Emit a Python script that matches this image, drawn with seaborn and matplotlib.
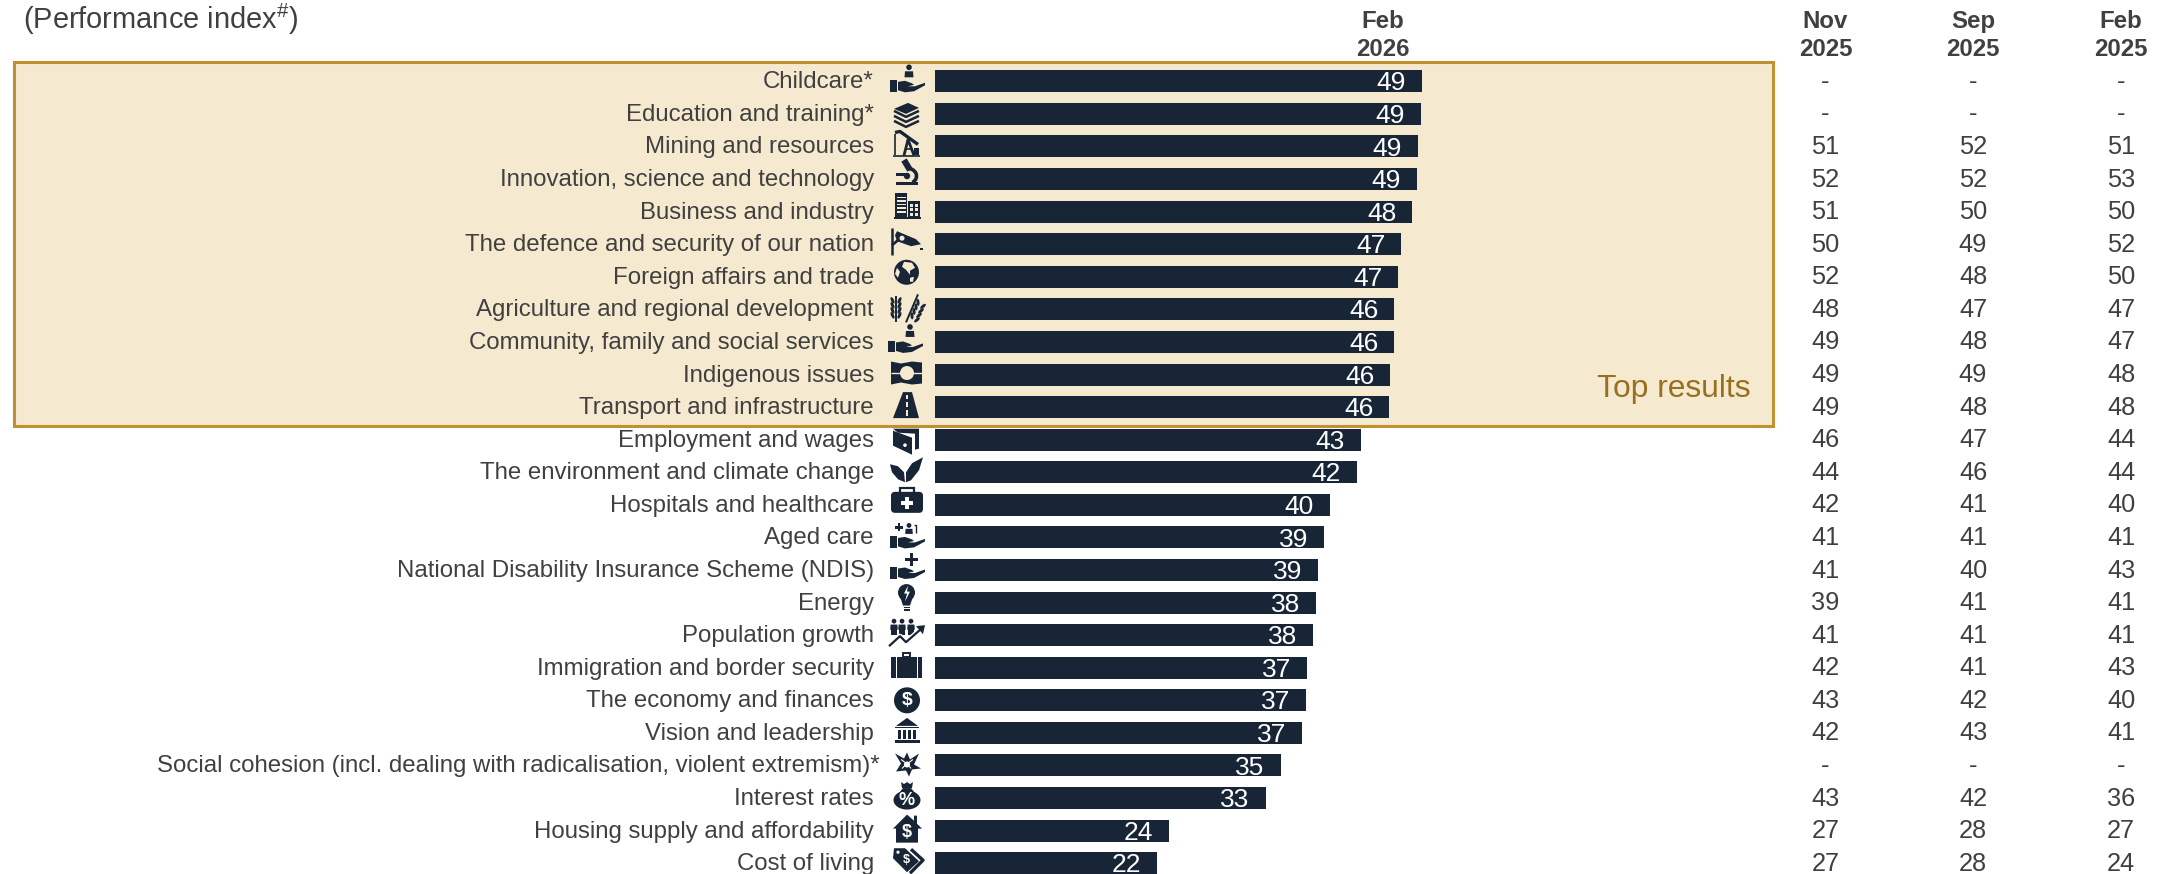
import matplotlib
matplotlib.use("Agg")
import matplotlib.pyplot as plt
import pandas as pd
import seaborn as sns
from matplotlib.patches import Arc, Circle, Ellipse, FancyBboxPatch, Polygon, Rectangle

categories = [
    "Childcare*", "Education and training*", "Mining and resources",
    "Innovation, science and technology", "Business and industry",
    "The defence and security of our nation", "Foreign affairs and trade",
    "Agriculture and regional development", "Community, family and social services",
    "Indigenous issues", "Transport and infrastructure", "Employment and wages",
    "The environment and climate change", "Hospitals and healthcare", "Aged care",
    "National Disability Insurance Scheme (NDIS)", "Energy", "Population growth",
    "Immigration and border security", "The economy and finances", "Vision and leadership",
    "Social cohesion (incl. dealing with radicalisation, violent extremism)*",
    "Interest rates", "Housing supply and affordability", "Cost of living",
]
# bar lengths, printed labels are the rounded ones
feb26 = [49.2, 49.1, 48.8, 48.7, 48.2, 47.1, 46.8, 46.4, 46.4, 46.0, 45.9, 43.0, 42.6,
         39.9, 39.3, 38.7, 38.5, 38.2, 37.6, 37.5, 37.1, 34.9, 33.4, 23.6, 22.4]
feb26_labels = [49, 49, 49, 49, 48, 47, 47, 46, 46, 46, 46, 43, 42,
                40, 39, 39, 38, 38, 37, 37, 37, 35, 33, 24, 22]
nov25 = ["-", "-", 51, 52, 51, 50, 52, 48, 49, 49, 49, 46, 44, 42, 41, 41, 39, 41, 42, 43, 42, "-", 43, 27, 27]
sep25 = ["-", "-", 52, 52, 50, 49, 48, 47, 48, 49, 48, 47, 46, 41, 41, 40, 41, 41, 41, 42, 43, "-", 42, 28, 28]
feb25 = ["-", "-", 51, 53, 50, 52, 50, 47, 47, 48, 48, 44, 44, 40, 41, 43, 41, 41, 43, 40, 41, "-", 36, 27, 24]

W, H = 2164, 874
NAVY = "#182536"
GREY = "#404040"
CREAM = "#f5e9cf"
GOLD = "#bf9130"
ROW0, STEP = 81.3, 32.58
BAR_X0, PX_PER_UNIT = 935, 9.9
ICON_X = 907

plt.rcParams["font.family"] = ["Liberation Sans", "DejaVu Sans"]
plt.rcParams["mathtext.fontset"] = "custom"
plt.rcParams["mathtext.rm"] = "Liberation Sans"
plt.rcParams["mathtext.default"] = "regular"

df = pd.DataFrame({"issue": categories, "index": feb26})

fig = plt.figure(figsize=(W / 100, H / 100), dpi=100)

# pixel canvas behind the bars: box, text, icons
bg = fig.add_axes([0, 0, 1, 1], zorder=0)
bg.set_xlim(0, W)
bg.set_ylim(H, 0)
bg.axis("off")

ax = fig.add_axes([BAR_X0 / W, 0, (W - BAR_X0) / W, 1], zorder=1)
ax.patch.set_alpha(0)
sns.barplot(data=df, x="index", y="issue", color=NAVY, saturation=1, width=22 / STEP, ax=ax)
ax.set_xlim(0, (W - BAR_X0) / PX_PER_UNIT)
ax.set_ylim((H - ROW0) / STEP, -ROW0 / STEP)
ax.axis("off")

bg.add_patch(Rectangle((14, 61.5), 1759, 364, fc=CREAM, ec=GOLD, lw=2.2))

for i, (val, lab) in enumerate(zip(feb26, feb26_labels)):
    ax.annotate(str(lab), (val, i), xytext=(-11.5, -1.5), textcoords="offset points",
                ha="right", va="center", color="white", fontsize=19)

for i, cat in enumerate(categories):
    y = ROW0 + STEP * i
    right = 874
    if cat.startswith("Social cohesion"):
        right = 880
    bg.text(right, y + 1, cat, ha="right", va="center", color=GREY, fontsize=17.25)
    for xc, col in zip([1825.5, 1973, 2121], [nov25, sep25, feb25]):
        bg.text(xc, y + 0.5, str(col[i]), ha="center", va="center", color=GREY, fontsize=18.3)

bg.text(23, 19, "(Performance index$^{\\#}$)", ha="left", va="center", color=GREY, fontsize=20.9)
for xc, mon, yr in [(1383, "Feb", "2026"), (1825.5, "Nov", "2025"), (1973, "Sep", "2025"), (2121, "Feb", "2025")]:
    bg.text(xc, 21.5, mon, ha="center", va="center", color=GREY, fontsize=17.3, fontweight="bold")
    bg.text(xc, 49.5, yr, ha="center", va="center", color=GREY, fontsize=17.3, fontweight="bold")
bg.text(1750.5, 389, "Top results", ha="right", va="center", color="#97701f", fontsize=22.9)


# icon helpers, coordinates are pixels relative to the row centre
def poly(y0, pts, c=NAVY):
    bg.add_patch(Polygon([(ICON_X + a, y0 + b) for a, b in pts], closed=True, fc=c, ec="none", zorder=3))


def circ(y0, a, b, r, c=NAVY):
    bg.add_patch(Circle((ICON_X + a, y0 + b), r, fc=c, ec="none", zorder=3))


def rect(y0, a, b, w, h, c=NAVY):
    bg.add_patch(Rectangle((ICON_X + a, y0 + b), w, h, fc=c, ec="none", zorder=3))


def line(y0, pts, c=NAVY, lw=1.5):
    bg.plot([ICON_X + a for a, b in pts], [y0 + b for a, b in pts], color=c, lw=lw,
            solid_capstyle="butt", zorder=3)


def ell(y0, a, b, w, h, ang, c=NAVY):
    bg.add_patch(Ellipse((ICON_X + a, y0 + b), w, h, angle=ang, fc=c, ec="none", zorder=3))


def glyph(y0, a, b, s, c, size):
    bg.text(ICON_X + a, y0 + b, s, ha="center", va="center", color=c, fontsize=size,
            fontweight="bold", zorder=4)


def hand(y0, dx=0.0, dy=0.0):
    rect(y0, -17 + dx, -1 + dy, 7, 11.5)
    poly(y0, [(a + dx, b + dy) for a, b in [(-9, 0.5), (-2, -0.5), (5, 2), (7, 3.5), (1, 5), (8, 5),
                                            (18, 1.5), (18, 4), (7, 10), (-2, 11), (-9, 9)]])


def person(y0, a, b, s=1.0):
    circ(y0, a, b, 2.8 * s)
    poly(y0, [(a - 4.5 * s, b + 10 * s), (a - 4 * s, b + 4 * s), (a + 4 * s, b + 4 * s), (a + 4.5 * s, b + 10 * s)])


def i_child(y0, c):
    hand(y0)
    person(y0, 2, -14)


def i_books(y0, c):
    poly(y0, [(-13, -5), (1, -11), (12, -6), (-1, 0)])
    for d in (0, 5, 10):
        line(y0, [(-13, -3 + d), (-1, 3 + d), (12, -3 + d)], lw=1.8)


def i_pump(y0, c):
    line(y0, [(-12, -14), (-7, -15), (11, -2)], lw=2.4)
    line(y0, [(-12, -12), (-12, 9)], lw=1.2)
    line(y0, [(-3, 9), (1, -7), (7, 9)], lw=2)
    line(y0, [(-1, 3), (6, 3)], lw=1.2)
    line(y0, [(-14, 9.5), (13, 9.5)], lw=1.2)
    rect(y0, 7, 2, 5, 7)


def i_micro(y0, c):
    rect(y0, -11, 3, 22, 3)
    rect(y0, -11, -6, 13, 2.5)
    bg.add_patch(Arc((ICON_X + 1, y0 - 3), 17, 15, theta1=-100, theta2=55, ec=NAVY, lw=2.6, zorder=3))
    line(y0, [(-3, -19), (3, -9)], lw=4.5)
    circ(y0, 0, -3, 3.2)


def i_build(y0, c):
    rect(y0, -12, -19, 12, 26)
    rect(y0, 1, -11, 12, 18)
    rect(y0, -13, 5, 27, 2)
    for k in range(5):
        rect(y0, -10, -15 + k * 3.6, 9, 1.6, c)
    for a in (3, 7.5):
        for b in (-8, -3.5, 1):
            rect(y0, a, b, 3, 3, c)


def i_cam(y0, c):
    line(y0, [(-15.5, -16), (-15.5, 11)], lw=1.8)
    line(y0, [(-15, 1), (-9, -4)], lw=2)
    poly(y0, [(-10, -13), (9, -5), (14, 0), (4, 2), (-10, -3), (-12, -9)])
    circ(y0, -5, -6, 2.5, c)
    rect(y0, 13, 4, 3, 1.5)


def i_globe(y0, c):
    circ(y0, -0.5, -4.5, 12.5)
    poly(y0, [(-3, -15), (5, -14), (8, -9), (3, -6), (3, -2), (-1, -7), (-5, -10)], c)
    poly(y0, [(-10, -9), (-7, -5), (-9, 1), (-12, -3)], c)
    poly(y0, [(3, 1), (7, 0), (6, 5), (3, 5)], c)


def i_wheat(y0, c):
    line(y0, [(-11, -13), (-11, 13)], lw=1.4)
    line(y0, [(11, -15), (-1, 13)], lw=1.4)
    for k in range(4):
        ell(y0, -14.5, -9 + k * 5, 3, 7, -25)
        ell(y0, -7.5, -9 + k * 5, 3, 7, 25)
        ell(y0, 5 + (3 - k) * 2, -7 + k * 4.5, 3, 7, -5)
        ell(y0, 11 + (3 - k) * 2 - 1, -3 + k * 4.5, 3, 7, 50)


def i_comm(y0, c):
    hand(y0, dx=-2)
    person(y0, 3, -15)


def i_flag(y0, c):
    poly(y0, [(-16, -13), (-6, -11), (5, -13), (15, -12), (15, 9), (5, 10), (-6, 8), (-16, 10)])
    line(y0, [(-16, -1.5), (15, -1.5)], c, lw=1)
    circ(y0, 0, -1.5, 7, c)


def i_road(y0, c):
    poly(y0, [(-4, -15), (5, -15), (12, 11), (-14, 11)])
    for b, h in [(-12, 4), (-5, 5), (3, 6)]:
        rect(y0, -1.5, b, 2, h, c)


def i_wallet(y0, c):
    poly(y0, [(-14, -11), (12, -11), (12, 9), (8, 10), (8, -6), (-9, -7)])
    poly(y0, [(-14, -9), (5, -2), (5, 15), (-14, 6)])
    circ(y0, -2, 5.5, 1.8, c)


def i_leaf(y0, c):
    poly(y0, [(16, -15), (12, -2), (4, 8), (-1, 10), (-1, 0), (5, -9)])
    poly(y0, [(-17, -8), (-9, -6), (-3, 0), (-2, 10), (-9, 7), (-15, 0)])


def i_case(y0, c):
    bg.add_patch(FancyBboxPatch((ICON_X - 14, y0 - 11), 28, 17, boxstyle="round,pad=2,rounding_size=4",
                                fc=NAVY, ec="none", zorder=3))
    bg.add_patch(Rectangle((ICON_X - 7, y0 - 17), 14, 6, fc="none", ec=NAVY, lw=1.6, zorder=3))
    rect(y0, -1.8, -8, 4, 12, "white")
    rect(y0, -6, -3.8, 12, 4, "white")


def i_aged(y0, c):
    hand(y0, dy=0)
    rect(y0, -9.5, -14, 2.2, 8)
    rect(y0, -12.5, -11, 8, 2.2)
    person(y0, 2, -12, 0.85)
    line(y0, [(7, -12), (9, -12), (9, -4)], lw=1)


def i_ndis(y0, c):
    hand(y0, dy=-2)
    rect(y0, 2.5, -17, 3.4, 13)
    rect(y0, -2, -12, 12.5, 3.4)


def i_energy(y0, c):
    circ(y0, -0.5, -10, 8.5)
    poly(y0, [(-7, -6), (6, -6), (3, 3), (-4, 3)])
    poly(y0, [(1, -17), (-3, -9), (0, -9), (-2, -1), (3, -11), (0, -11)], c)
    rect(y0, -3.5, 4, 6, 1.5)
    rect(y0, -3.5, 6.5, 6, 1.5)


def i_pop(y0, c):
    for a in (-13, -5, 4):
        person(y0, a, -14, 0.85)
        rect(y0, a - 3, -6, 6, 6)
    line(y0, [(-18, 11), (-7, 1), (-1, 7), (15, -7)], c, lw=3.6)
    line(y0, [(-18, 11), (-7, 1), (-1, 7), (15, -7)], lw=1.6)
    poly(y0, [(9, -9), (18, -10), (16, -1)])


def i_suit(y0, c):
    rect(y0, -16, -11, 31, 21)
    rect(y0, -11.5, -11, 1, 21, c)
    rect(y0, 9.5, -11, 1, 21, c)
    bg.add_patch(Rectangle((ICON_X - 4, y0 - 15), 7, 4, fc="none", ec=NAVY, lw=1.4, zorder=3))


def i_dollar(y0, c):
    circ(y0, 0, 0, 13)
    glyph(y0, 0, 0, "$", "white", 14)


def i_bank(y0, c):
    poly(y0, [(-11, -7), (0, -15), (11, -7)])
    rect(y0, -12, -6, 24, 1.6)
    for a in (-9.5, -4.5, 0.5, 5.5):
        rect(y0, a, -3, 3.2, 9)
    rect(y0, -12, 7, 25, 3)


def i_star(y0, c):
    poly(y0, [(0, -13), (3, -6), (12, -12), (7, -1), (14, 3), (5, 4), (2, 11), (-1, 5), (-11, 6),
              (-6, -2), (-12, -12), (-3, -7)])
    circ(y0, 0, -1, 3, c)
    line(y0, [(-6, -6), (1, -1), (4, 3)], c, lw=0.8)
    line(y0, [(6, -6), (-2, 0), (-5, 3)], c, lw=0.8)


def i_bag(y0, c):
    poly(y0, [(-6, -16), (-3, -14), (0, -16), (3, -14), (6, -16), (5, -10), (-5, -10)])
    ell(y0, 0, 2, 27, 19, 0)
    poly(y0, [(-4, -10), (4, -10), (8, -5), (-8, -5)])
    glyph(y0, 0, 2, "%", "white", 13)


def i_house(y0, c):
    poly(y0, [(0, -16), (7, -10), (7, -15), (10, -15), (10, -7), (15, -2), (11, -2), (11, 12),
              (-11, 12), (-11, -2), (-14, -2)])
    glyph(y0, 0, 2, "$", "white", 13)


def i_tag(y0, c):
    poly(y0, [(-13, -15), (-2, -15), (12, -2), (0, 9), (-14, -5)])
    circ(y0, -9, -11, 1.6, c)
    glyph(y0, -1, -3, "$", "white", 9)
    line(y0, [(4, -14), (16, -3), (3, 10)], lw=2.4)


icons = [i_child, i_books, i_pump, i_micro, i_build, i_cam, i_globe, i_wheat, i_comm, i_flag,
         i_road, i_wallet, i_leaf, i_case, i_aged, i_ndis, i_energy, i_pop, i_suit, i_dollar,
         i_bank, i_star, i_bag, i_house, i_tag]
for i, draw_icon in enumerate(icons):
    draw_icon(ROW0 + STEP * i, CREAM if i <= 10 else "white")

bg.set_xlim(0, W)
bg.set_ylim(H, 0)
fig.savefig("out.png", dpi=100)
